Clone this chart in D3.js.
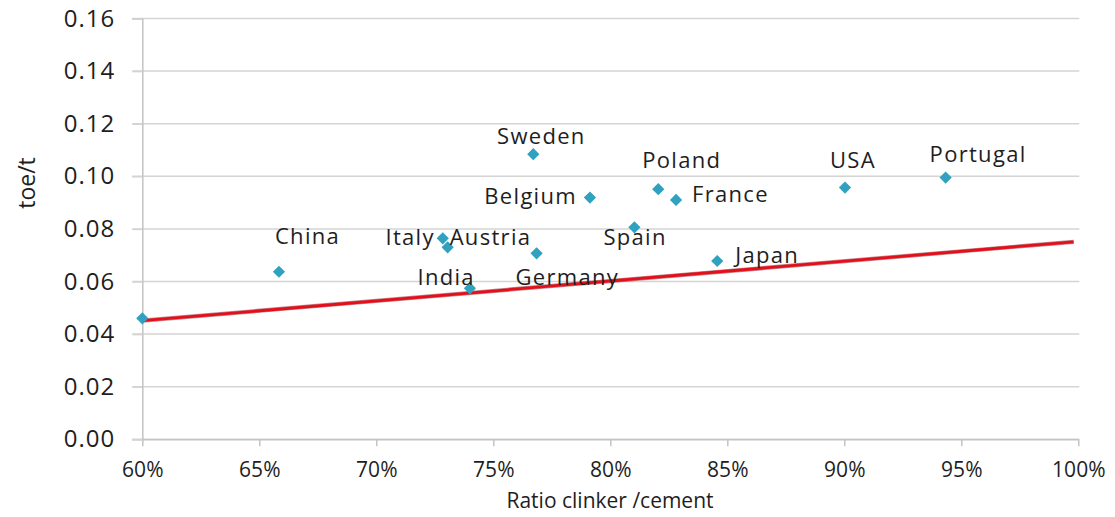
<!DOCTYPE html>
<html>
<head>
<meta charset="utf-8">
<script src="https://cdn.jsdelivr.net/npm/d3@7"></script>
<style>
  html, body { margin: 0; padding: 0; background: #ffffff; }
  svg { display: block; }
  text { font-family: "Open Sans", sans-serif; fill: #1e1e1e; }
</style>
</head>
<body>
<svg id="chart" width="1115" height="517"></svg>
<script>
// ---- data ----
const countries = ["", "China", "Sweden", "Belgium", "Poland", "France", "Spain", "Italy", "Austria", "Germany", "India", "Japan", "USA", "Portugal"];
const clinkerRatio = [0.600, 0.6584, 0.7671, 0.7913, 0.8205, 0.8281, 0.8103, 0.7284, 0.7305, 0.7685, 0.7400, 0.8457, 0.9003, 0.9433];
const toePerTonne = [0.0460, 0.0637, 0.1084, 0.0919, 0.0951, 0.0910, 0.0806, 0.0764, 0.0730, 0.0707, 0.0574, 0.0678, 0.0957, 0.0995];
const trendX = [0.600, 0.998];
const trendY = [0.0451, 0.0751];
const xTicks = [0.60, 0.65, 0.70, 0.75, 0.80, 0.85, 0.90, 0.95, 1.00];
const yTicks = [0.00, 0.02, 0.04, 0.06, 0.08, 0.10, 0.12, 0.14, 0.16];
const xTitle = "Ratio clinker /cement";
const yTitle = "toe/t";

// ---- layout (label placement relative to marker: anchor, dx, dy) ----
const labelPlacement = {
  "China":    ["start", -4, -28],
  "Sweden":   ["middle", 8, -10],
  "Belgium":  ["end", -13, 6],
  "Poland":   ["start", -16, -21],
  "France":   ["start", 16, 2],
  "Spain":    ["start", -31, 18],
  "Italy":    ["end", -8, 7],
  "Austria":  ["start", 2, -2],
  "Germany":  ["start", -21, 32],
  "India":    ["end", 5, -3],
  "Japan":    ["start", 18, 2],
  "USA":      ["start", -15, -20],
  "Portugal": ["start", -16, -16]
};

const svg = d3.select("#chart");
const margin = { left: 142.3, right: 1115 - 1078.3, top: 18.5, bottom: 517 - 439.3 };
const W = 1115, H = 517;

const x = d3.scaleLinear().domain([0.6, 1.0]).range([margin.left, W - margin.right]);
const y = d3.scaleLinear().domain([0, 0.16]).range([H - margin.bottom, margin.top]);

// gridlines
svg.append("g")
  .selectAll("line")
  .data(yTicks)
  .join("line")
  .attr("x1", margin.left - 10)
  .attr("x2", W - margin.right + 1)
  .attr("y1", d => y(d))
  .attr("y2", d => y(d))
  .attr("stroke", "#d4d4d4")
  .attr("stroke-width", 1.5);

// y axis
const yAxis = svg.append("g")
  .attr("transform", `translate(${margin.left},0)`)
  .call(d3.axisLeft(y).tickValues(yTicks).tickFormat(d3.format(".2f")).tickSize(10).tickPadding(17));
yAxis.select(".domain").attr("stroke", "#c4c4c4").attr("stroke-width", 1.5);
yAxis.selectAll(".tick line").attr("stroke", "#d4d4d4").attr("stroke-width", 1.5);
yAxis.selectAll(".tick text")
  .style("font-family", "'Open Sans', sans-serif")
  .style("font-size", "24px")
  .style("letter-spacing", "1px")
  .attr("fill", "#1e1e1e");

// x axis
const xAxis = svg.append("g")
  .attr("transform", `translate(0,${y(0)})`)
  .call(d3.axisBottom(x).tickValues(xTicks).tickFormat(d3.format(".0%")).tickSize(7).tickSizeOuter(0).tickPadding(16));
xAxis.select(".domain").attr("stroke", "#c4c4c4").attr("stroke-width", 1.5);
xAxis.selectAll(".tick line").attr("stroke", "#c4c4c4").attr("stroke-width", 1.5);
xAxis.selectAll(".tick text")
  .style("font-family", "'Open Sans', sans-serif")
  .style("font-size", "21px")
  .attr("fill", "#1e1e1e");

// trend line
const trend = trendX.map((v, i) => ({ x: v, y: trendY[i] }));
svg.append("path")
  .datum(trend)
  .attr("d", d3.line().x(d => x(d.x)).y(d => y(d.y)))
  .attr("stroke", "#8a1016")
  .attr("stroke-width", 4.2)
  .attr("stroke-opacity", 0.5)
  .attr("fill", "none");
svg.append("path")
  .datum(trend)
  .attr("d", d3.line().x(d => x(d.x)).y(d => y(d.y)))
  .attr("stroke", "#e3101c")
  .attr("stroke-width", 2.8)
  .attr("fill", "none");

// points
const pts = countries.map((c, i) => ({ name: c, x: clinkerRatio[i], y: toePerTonne[i] }));
svg.append("g")
  .selectAll("path")
  .data(pts)
  .join("path")
  .attr("transform", d => `translate(${x(d.x)},${y(d.y)})`)
  .attr("d", d3.symbol().type(d3.symbolDiamond2).size(95))
  .attr("fill", "#2fa2bf");

// labels
svg.append("g")
  .selectAll("text")
  .data(pts.filter(d => d.name))
  .join("text")
  .attr("x", d => x(d.x) + labelPlacement[d.name][1])
  .attr("y", d => y(d.y) + labelPlacement[d.name][2])
  .attr("text-anchor", d => labelPlacement[d.name][0])
  .style("font-size", "22px")
  .style("letter-spacing", "1.3px")
  .text(d => d.name);

// axis titles
svg.append("text")
  .attr("x", 610)
  .attr("y", 508)
  .attr("text-anchor", "middle")
  .style("font-size", "21px")
  .text(xTitle);

svg.append("text")
  .attr("transform", "translate(35,183) rotate(-90)")
  .attr("text-anchor", "middle")
  .style("font-size", "23px")
  .text(yTitle);
</script>
</body>
</html>
